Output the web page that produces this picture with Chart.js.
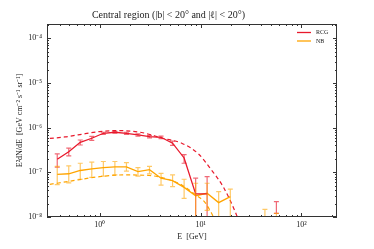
<!DOCTYPE html>
<html>
<head>
<meta charset="utf-8">
<script src="https://cdn.jsdelivr.net/npm/chart.js@4.4.1/dist/chart.umd.min.js"></script>
<style>
    html, body { margin: 0; padding: 0; background: #fff; }
    #wrap { width: 374px; height: 249px; }
</style>
</head>
<body>
<div id="wrap"><canvas id="Chart"></canvas></div>
<script>
// energy bins [GeV]
var energies = [0.379, 0.493, 0.641, 0.834, 1.086, 1.413, 1.839, 2.393, 3.114, 4.052,
                5.273, 6.862, 8.93, 11.6, 15.1, 19.7, 25.6, 33.3, 43.4, 56.4];

// RCG spectrum and error bars
var rcgFlux = [1.97e-7, 2.9e-7, 4.7e-7, 5.8e-7, 7.5e-7, 7.9e-7, 7.5e-7, 6.9e-7, 6.3e-7, 6.1e-7,
               4.5e-7, 2.1e-7, 3.3e-8, 3.3e-8, null, null, null, null, null, null];
var rcgHi = [2.6e-7, 3.47e-7, 5.3e-7, 6.4e-7, 7.9e-7, 8.3e-7, 7.9e-7, 7.3e-7, 6.7e-7, 6.5e-7,
             5.0e-7, 2.5e-7, 7.4e-8, 8.0e-8, null, null, null, null, null, 2.2e-8];
var rcgLo = [1.3e-7, 2.33e-7, 4.1e-7, 5.2e-7, 7.1e-7, 7.5e-7, 7.1e-7, 6.5e-7, 5.9e-7, 5.7e-7,
             4.0e-7, 1.6e-7, 5e-9, 5e-9, null, null, null, null, null, 1.2e-8];

// NB spectrum and error bars
var nbFlux = [9.0e-8, 9.3e-8, 1.1e-7, 1.2e-7, 1.27e-7, 1.32e-7, 1.32e-7, 1.04e-7, 1.15e-7, 7.4e-8,
              6.5e-8, 4.6e-8, 3.0e-8, 3.4e-8, 2.1e-8, 2.85e-8, null, null, null, null];
var nbHi = [1.36e-7, 1.4e-7, 1.6e-7, 1.7e-7, 1.75e-7, 1.75e-7, 1.65e-7, 1.28e-7, 1.36e-7, 9.5e-8,
            8.8e-8, 7.0e-8, 5.7e-8, 5.7e-8, 3.7e-8, 4.2e-8, null, null, 1.48e-8, 1.2e-8];
var nbLo = [5.3e-8, 5.8e-8, 7.0e-8, 7.7e-8, 8.2e-8, 8.8e-8, 1.07e-7, 8.2e-8, 9.2e-8, 5.2e-8,
            4.8e-8, 2.6e-8, 5e-9, 1.4e-8, 5e-9, 5e-9, null, null, 5e-9, 5e-9];

// model curves (dashed)
var rcgModelE = [0.32, 0.45, 0.61, 1.0, 1.5, 2.6, 4.2, 6.5, 9.5, 12.8, 16.8, 22.5, 24];
var rcgModel = [5.75e-7, 6.2e-7, 6.9e-7, 8.2e-7, 8.6e-7, 7.8e-7, 5.8e-7, 4.5e-7, 2.6e-7, 1.13e-7, 4.7e-8, 1.17e-8, 8e-9];
var nbModelE = [0.32, 0.379, 0.609, 1.0, 1.68, 3.09, 4.64, 6.52, 9.12, 10.9, 12.8, 13.7];
var nbModel = [5.4e-8, 5.7e-8, 6.8e-8, 8.0e-8, 8.75e-8, 8.5e-8, 7.1e-8, 5.2e-8, 3.0e-8, 2.2e-8, 1.23e-8, 9e-9];

var xTickValues = [1, 10, 100];
var xTickLabels = ['10\u2070', '10\u00b9', '10\u00b2'];
var yTickValues = [1e-8, 1e-7, 1e-6, 1e-5, 1e-4];
var yTickLabels = ['10\u207b\u2078', '10\u207b\u2077', '10\u207b\u2076', '10\u207b\u2075', '10\u207b\u2074'];

var RED = '#e8192c';
var ORANGE = '#ffa500';
var FONT = 'Liberation Serif';
var TEXT = '#222';

function pairs(xs, ys) {
    return xs.map(function (x, i) { return {x: x, y: ys[i]}; });
}

function logMarks(min, max) {
    var out = [];
    for (var e = Math.floor(Math.log10(min)); e <= Math.ceil(Math.log10(max)); e++) {
        for (var m = 1; m < 10; m++) {
            var v = m * Math.pow(10, e);
            if (v >= min && v <= max) out.push({v: v, major: m === 1});
        }
    }
    return out;
}

var errorBars = {
    id: 'errorBars',
    afterDatasetsDraw: function (chart) {
        var ctx = chart.ctx, a = chart.chartArea;
        var xs = chart.scales.x, ys = chart.scales.y;
        ctx.save();
        ctx.beginPath();
        ctx.rect(a.left, a.top, a.right - a.left, a.bottom - a.top);
        ctx.clip();
        chart.data.datasets.forEach(function (ds) {
            if (!ds.errHi) return;
            ctx.strokeStyle = ds.errColor;
            ctx.lineWidth = 1.2;
            ds.errHi.forEach(function (hi, i) {
                var lo = ds.errLo[i];
                if (hi == null || lo == null) return;
                var px = xs.getPixelForValue(energies[i]);
                var top = ys.getPixelForValue(hi), bot = ys.getPixelForValue(lo);
                ctx.beginPath();
                ctx.moveTo(px, top); ctx.lineTo(px, bot);
                ctx.moveTo(px - 2.5, top); ctx.lineTo(px + 2.5, top);
                ctx.moveTo(px - 2.5, bot); ctx.lineTo(px + 2.5, bot);
                ctx.stroke();
            });
        });
        ctx.restore();
    }
};

// box round the axes with inward ticks, and the legend in the corner
var frame = {
    id: 'frame',
    afterDraw: function (chart) {
        var ctx = chart.ctx, a = chart.chartArea;
        var xs = chart.scales.x, ys = chart.scales.y;
        ctx.save();
        ctx.strokeStyle = '#333';
        ctx.lineWidth = 1;
        ctx.strokeRect(a.left + 0.5, a.top + 0.5, a.right - a.left - 1, a.bottom - a.top - 1);
        ctx.beginPath();
        logMarks(xs.min, xs.max).forEach(function (t) {
            var px = Math.round(xs.getPixelForValue(t.v)) + 0.5;
            var len = t.major ? 4 : 2;
            ctx.moveTo(px, a.bottom); ctx.lineTo(px, a.bottom - len);
            ctx.moveTo(px, a.top); ctx.lineTo(px, a.top + len);
        });
        logMarks(ys.min, ys.max).forEach(function (t) {
            var py = Math.round(ys.getPixelForValue(t.v)) + 0.5;
            var len = t.major ? 4 : 2;
            ctx.moveTo(a.left, py); ctx.lineTo(a.left + len, py);
            ctx.moveTo(a.right, py); ctx.lineTo(a.right - len, py);
        });
        ctx.stroke();

        // legend
        ctx.font = '6px "' + FONT + '"';
        ctx.textBaseline = 'middle';
        ctx.fillStyle = TEXT;
        var row = 0;
        chart.data.datasets.forEach(function (ds) {
            if (!ds.inLegend) return;
            var y = a.top + 8.5 + row * 8.5;
            ctx.strokeStyle = ds.borderColor;
            ctx.lineWidth = 1.3;
            ctx.beginPath();
            ctx.moveTo(a.right - 40, y); ctx.lineTo(a.right - 26, y);
            ctx.stroke();
            ctx.fillText(ds.label, a.right - 21, y);
            row++;
        });
        ctx.restore();
    }
};

var ctx = document.getElementById('Chart').getContext('2d');

new Chart(ctx, {
    type: 'line',
    data: {
        datasets: [
            {
                label: 'RCG',
                data: pairs(energies, rcgFlux),
                borderColor: RED,
                borderWidth: 1.3,
                pointRadius: 0,
                spanGaps: false,
                errHi: rcgHi,
                errLo: rcgLo,
                errColor: 'rgba(232,25,44,0.65)',
                inLegend: true
            },
            {
                label: 'NB',
                data: pairs(energies, nbFlux),
                borderColor: ORANGE,
                borderWidth: 1.3,
                pointRadius: 0,
                spanGaps: false,
                errHi: nbHi,
                errLo: nbLo,
                errColor: 'rgba(255,165,0,0.6)',
                inLegend: true
            },
            {
                label: 'RCG model',
                data: pairs(rcgModelE, rcgModel),
                borderColor: RED,
                borderWidth: 1.2,
                borderDash: [4, 3],
                pointRadius: 0,
                cubicInterpolationMode: 'monotone'
            },
            {
                label: 'NB model',
                data: pairs(nbModelE, nbModel),
                borderColor: ORANGE,
                borderWidth: 1.2,
                borderDash: [4, 3],
                pointRadius: 0,
                cubicInterpolationMode: 'monotone'
            }
        ]
    },
    options: {
        responsive: true,
        maintainAspectRatio: false,
        animation: false,
        devicePixelRatio: 1,
        layout: { padding: { left: 0, right: 37, top: 0, bottom: 0 } },
        scales: {
            x: {
                type: 'logarithmic',
                min: 0.32,
                max: 225,
                grid: { display: false, drawTicks: false },
                border: { display: false },
                afterBuildTicks: function (scale) {
                    scale.ticks = xTickValues.map(function (v) { return {value: v}; });
                },
                afterFit: function (scale) { scale.height = 32; },
                ticks: {
                    autoSkip: false,
                    maxRotation: 0,
                    padding: 3,
                    color: TEXT,
                    font: { family: FONT, size: 8 },
                    callback: function (value, index) { return xTickLabels[index]; }
                },
                title: {
                    display: true,
                    text: 'E  [GeV]',
                    color: TEXT,
                    font: { family: FONT, size: 8 },
                    padding: { top: 0, bottom: 7 }
                }
            },
            y: {
                type: 'logarithmic',
                min: 1e-8,
                max: 2.1e-4,
                grid: { display: false, drawTicks: false },
                border: { display: false },
                afterBuildTicks: function (scale) {
                    scale.ticks = yTickValues.map(function (v) { return {value: v}; });
                },
                afterFit: function (scale) { scale.width = 47; },
                ticks: {
                    autoSkip: false,
                    padding: 5,
                    color: TEXT,
                    font: { family: FONT, size: 8 },
                    callback: function (value, index) { return yTickLabels[index]; }
                },
                title: {
                    display: true,
                    text: 'E\u00b2dN/dE  [GeV cm\u207b\u00b2 s\u207b\u00b9 sr\u207b\u00b9]',
                    color: TEXT,
                    font: { family: FONT, size: 8 },
                    padding: { top: 15, bottom: 0 }
                }
            }
        },
        plugins: {
            legend: { display: false },
            tooltip: { enabled: false },
            title: {
                display: true,
                text: 'Central region (|b| < 20\u00b0 and |\u2113| < 20\u00b0)',
                color: TEXT,
                font: { family: FONT, size: 10, weight: 'normal' },
                padding: { top: 9, bottom: 3 }
            }
        }
    },
    plugins: [errorBars, frame]
});
</script>
</body>
</html>
